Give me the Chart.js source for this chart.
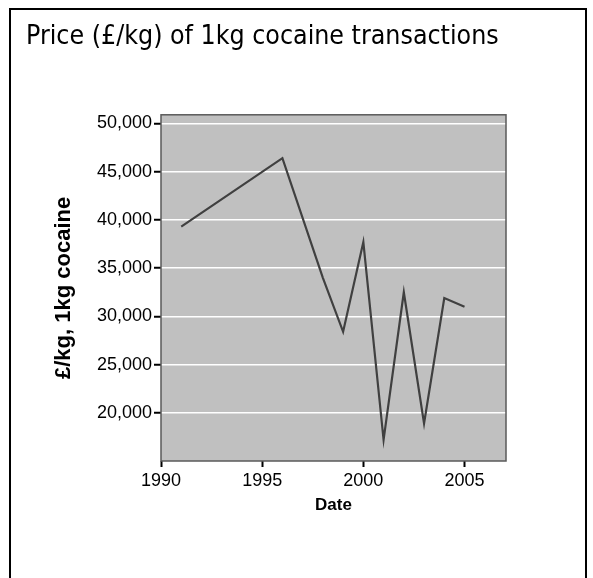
<!DOCTYPE html>
<html>
<head>
<meta charset="utf-8">
<script src="https://cdn.jsdelivr.net/npm/chart.js@4/dist/chart.umd.min.js"></script>
<style>
  html, body { margin: 0; padding: 0; background: #fff; }
  #wrap { width: 593px; height: 578px; position: relative; }
</style>
</head>
<body>
<div id="wrap"><canvas id="c" width="593" height="578"></canvas></div>
<script>
const titleText = 'Price (£/kg) of 1kg cocaine transactions';
const xAxisTitle = 'Date';
const yAxisTitle = '£/kg, 1kg cocaine';
const years = [1991, 1996, 1998, 1999, 2000, 2001, 2002, 2003, 2004, 2005];
const prices = [39300, 46400, 34000, 28400, 37700, 17200, 32500, 18900, 31900, 31000];
const xTicks = [1990, 1995, 2000, 2005];
const yTicks = [20000, 25000, 30000, 35000, 40000, 45000, 50000];

const framePlugin = {
  id: 'frame',
  beforeDraw(chart) {
    const { ctx, chartArea: a } = chart;
    ctx.save();
    ctx.fillStyle = '#c0c0c0';
    ctx.fillRect(a.left, a.top, a.right - a.left, a.bottom - a.top);
    ctx.restore();
  },
  afterDraw(chart) {
    const { ctx, chartArea: a } = chart;
    ctx.save();
    ctx.strokeStyle = '#5a5a5a';
    ctx.lineWidth = 1.5;
    ctx.strokeRect(a.left, a.top, a.right - a.left, a.bottom - a.top);
    ctx.strokeStyle = '#000';
    ctx.lineWidth = 2;
    ctx.beginPath();
    ctx.moveTo(10, 600);
    ctx.lineTo(10, 9);
    ctx.lineTo(586, 9);
    ctx.lineTo(586, 600);
    ctx.stroke();
    ctx.restore();
  }
};

new Chart(document.getElementById('c'), {
  type: 'line',
  data: {
    datasets: [{
      data: years.map((y, i) => ({ x: y, y: prices[i] })),
      borderColor: '#404040',
      borderWidth: 2.2,
      pointRadius: 0,
      tension: 0,
      fill: false
    }]
  },
  options: {
    responsive: false,
    animation: false,
    devicePixelRatio: 1,
    layout: { padding: { left: 26, right: 87, top: 0, bottom: 37 } },
    plugins: {
      legend: { display: false },
      tooltip: { enabled: false },
      title: {
        display: true,
        text: titleText,
        align: 'start',
        color: '#000',
        font: { family: "'Liberation Sans Narrow', 'DejaVu Sans Condensed', sans-serif", size: 26.5, weight: 'normal', lineHeight: 1.2 },
        padding: { top: 21, bottom: 62 }
      }
    },
    scales: {
      x: {
        type: 'linear',
        min: 1990,
        max: 2007.05,
        afterBuildTicks: s => { s.ticks = xTicks.map(v => ({ value: v })); },
        afterFit: s => { s.height = 80; },
        grid: { drawOnChartArea: false, drawTicks: true, tickLength: 6, tickColor: '#000', tickWidth: 2 },
        border: { display: false },
        ticks: {
          color: '#000', padding: 3, maxRotation: 0,
          font: { family: "'Liberation Sans', Arial, sans-serif", size: 18 },
          callback: v => String(v)
        },
        title: {
          display: true, text: xAxisTitle, color: '#000',
          font: { family: "'Liberation Sans', Arial, sans-serif", size: 17, weight: 'bold' },
          padding: { top: 0, bottom: 25 }
        }
      },
      y: {
        type: 'linear',
        min: 15000,
        max: 50900,
        afterBuildTicks: s => { s.ticks = yTicks.map(v => ({ value: v })); },
        afterFit: s => { s.width = 135; },
        grid: { drawOnChartArea: true, color: '#ffffff', lineWidth: 1.5, drawTicks: true, tickLength: 7, tickColor: '#000', tickWidth: 2 },
        border: { display: false },
        ticks: {
          color: '#000', padding: 2,
          font: { family: "'Liberation Sans', Arial, sans-serif", size: 18 },
          callback: v => v.toLocaleString('en-US')
        },
        title: {
          display: true, text: yAxisTitle, color: '#000',
          font: { family: "'Liberation Sans', Arial, sans-serif", size: 22, weight: 'bold' },
          padding: { top: 25, bottom: 0 }
        }
      }
    }
  },
  plugins: [framePlugin]
});
</script>
</body>
</html>
